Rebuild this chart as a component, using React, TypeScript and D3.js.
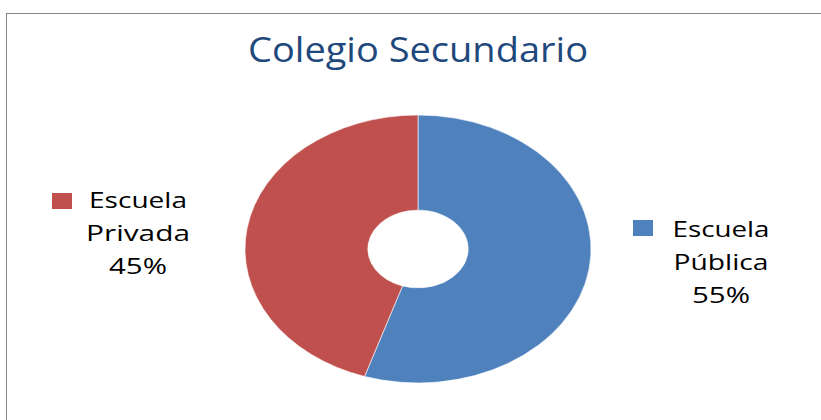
import { useRef, useEffect } from "react";
import * as d3 from "d3";

const categories = ["Escuela Pública", "Escuela Privada"];
const values = [55, 45];
const labelLines = [
  ["Escuela", "Pública", "55%"],
  ["Escuela", "Privada", "45%"],
];
const colors = ["#4F81BD", "#C0504D"];
const title = "Colegio Secundario";

const App = () => {
  const svgRef = useRef<SVGSVGElement>(null);

  useEffect(() => {
    const svg = d3.select(svgRef.current);
    svg.selectAll("*").remove();

    const W = 821;
    const H = 420;

    svg
      .append("rect")
      .attr("x", 6.5)
      .attr("y", 13.5)
      .attr("width", W + 20)
      .attr("height", H + 20)
      .attr("fill", "#fff")
      .attr("stroke", "#868686")
      .attr("stroke-width", 1);

    svg
      .append("text")
      .attr("x", 418)
      .attr("y", 62)
      .attr("text-anchor", "middle")
      .attr("font-family", "'Open Sans', sans-serif")
      .attr("font-size", 34)
      .attr("fill", "#1F497D")
      .attr("textLength", 340)
      .attr("lengthAdjust", "spacingAndGlyphs")
      .text(title);

    // elliptical donut: draw a round one and squash it
    const R = 100;
    const cx = 418;
    const cy = 249;
    const rx = 173;
    const ry = 134;

    const pie = d3
      .pie<number>()
      .sort(null)
      .value((d) => d);
    const arc = d3
      .arc<d3.PieArcDatum<number>>()
      .innerRadius(R * 0.29)
      .outerRadius(R);

    const g = svg
      .append("g")
      .attr("transform", `translate(${cx},${cy}) scale(${rx / R},${ry / R})`);

    g.selectAll("path")
      .data(pie(values))
      .join("path")
      .attr("d", arc)
      .attr("fill", (_, i) => colors[i])
      .attr("stroke", "rgba(255,255,255,0.6)")
      .attr("stroke-width", 1)
      .attr("vector-effect", "non-scaling-stroke");

    // labels with legend keys
    const labelPos = [
      { key: [633, 220], textX: 721, base: 237 },
      { key: [52, 193], textX: 138, base: 208 },
    ];
    const widths = [
      [97, 95, 58],
      [98, 104, 58],
    ];

    categories.forEach((_, i) => {
      const p = labelPos[i];
      svg
        .append("rect")
        .attr("x", p.key[0])
        .attr("y", p.key[1])
        .attr("width", 20)
        .attr("height", 16)
        .attr("fill", colors[i]);
      labelLines[i].forEach((line, j) => {
        svg
          .append("text")
          .attr("x", p.textX)
          .attr("y", p.base + j * 33)
          .attr("text-anchor", "middle")
          .attr("font-family", "'Open Sans', sans-serif")
          .attr("font-size", 21)
          .attr("fill", "#000")
          .attr("textLength", widths[i][j])
          .attr("lengthAdjust", "spacingAndGlyphs")
          .text(line);
      });
    });
  }, []);

  return (
    <svg
      ref={svgRef}
      width={821}
      height={420}
      style={{ position: "absolute", left: 0, top: 0 }}
    ></svg>
  );
};

export default App;
